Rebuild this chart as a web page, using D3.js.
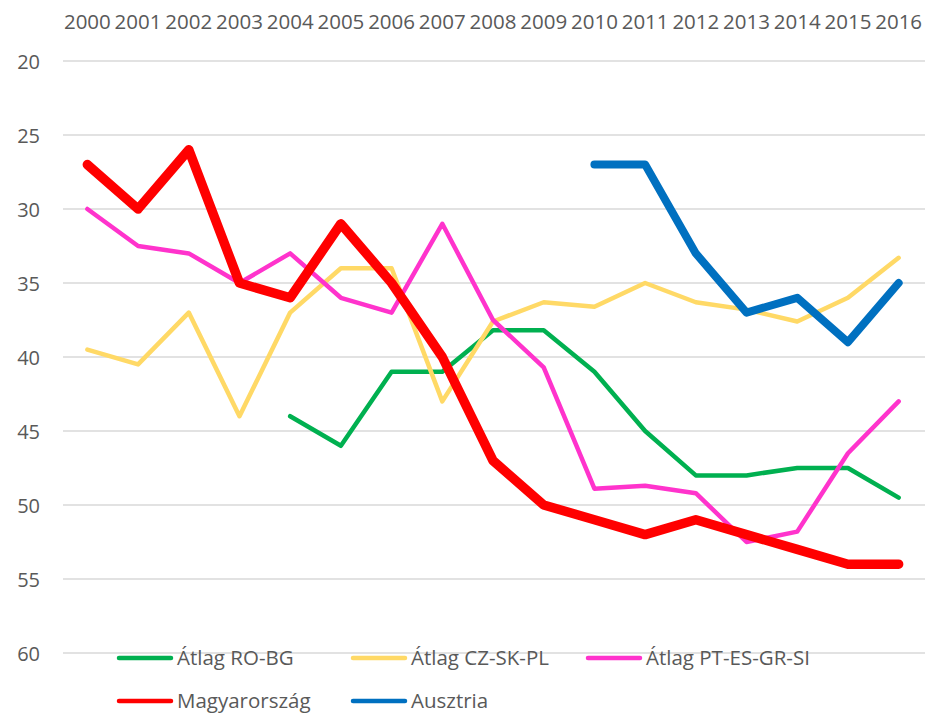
<!DOCTYPE html>
<html>
<head>
<meta charset="utf-8">
<script src="https://cdn.jsdelivr.net/npm/d3@7"></script>
<style>
  html, body { margin: 0; padding: 0; background: #fff; }
  svg { display: block; }
  text { font-family: "Open Sans", "Noto Sans", sans-serif; fill: #595959; }
</style>
</head>
<body>
<svg id="chart" width="925" height="713"></svg>
<script>
const years = ["2000","2001","2002","2003","2004","2005","2006","2007","2008","2009","2010","2011","2012","2013","2014","2015","2016"];
const yTicks = [20, 25, 30, 35, 40, 45, 50, 55, 60];

const roBg   = [null, null, null, null, 44, 46, 41, 41, 38.2, 38.2, 41, 45, 48, 48, 47.5, 47.5, 49.5];
const czSkPl = [39.5, 40.5, 37, 44, 37, 34, 34, 43, 37.6, 36.3, 36.6, 35, 36.3, 36.8, 37.6, 36, 33.3];
const ptEsGrSi = [30, 32.5, 33, 35, 33, 36, 37, 31, 37.5, 40.7, 48.9, 48.7, 49.2, 52.5, 51.8, 46.5, 43];
const magyar = [27, 30, 26, 35, 36, 31, 35, 40, 47, 50, 51, 52, 51, 52, 53, 54, 54];
const ausztria = [null, null, null, null, null, null, null, null, null, null, 27, 27, 33, 37, 36, 39, 35];

const seriesNames = ["Átlag RO-BG", "Átlag CZ-SK-PL", "Átlag PT-ES-GR-SI", "Magyarország", "Ausztria"];
const seriesValues = [roBg, czSkPl, ptEsGrSi, magyar, ausztria];
const seriesColors = ["#00B050", "#FFD966", "#FF33CC", "#FF0000", "#0070C0"];
const seriesWidths = [4.5, 4.5, 4.5, 9.5, 8];

(function () {
const svg = d3.select("#chart");
const mLeft = 63, mRight = 925, mTop = 61, mBottom = 653;

const x = d3.scaleBand().domain(years).range([mLeft - 1, mRight - 1]);
const y = d3.scaleLinear().domain([20, 60]).range([mTop, mBottom]);

// gridlines
svg.append("g").selectAll("line").data(yTicks).join("line")
  .attr("x1", mLeft).attr("x2", mRight)
  .attr("y1", d => y(d)).attr("y2", d => y(d))
  .attr("stroke", "#d9d9d9").attr("stroke-width", 1.5);

// y axis labels
const yAxis = d3.axisLeft(y).tickValues(yTicks).tickSize(0).tickPadding(0);
const gy = svg.append("g").attr("transform", "translate(40,0)").call(yAxis);
gy.select(".domain").remove();
gy.selectAll("text").attr("font-size", 20).style("font-family", '"Open Sans", sans-serif').attr("fill", "#595959").attr("dy", "0.35em");

// top x axis labels
const xAxis = d3.axisTop(x).tickSize(0).tickPadding(0);
const gx = svg.append("g").attr("transform", "translate(0,29)").call(xAxis);
gx.select(".domain").remove();
gx.selectAll("text").attr("font-size", 20.5).style("font-family", '"Open Sans", sans-serif').attr("fill", "#595959").attr("dy", 0);

// lines
const line = d3.line()
  .defined(d => d.v !== null)
  .x(d => x(d.year) + x.bandwidth() / 2)
  .y(d => y(d.v));

seriesValues.forEach((vals, i) => {
  const data = years.map((yr, j) => ({ year: yr, v: vals[j] }));
  svg.append("path")
    .datum(data)
    .attr("d", line)
    .attr("fill", "none")
    .attr("stroke", seriesColors[i])
    .attr("stroke-width", seriesWidths[i])
    .attr("stroke-linejoin", "round")
    .attr("stroke-linecap", "round");
});

// legend
const legendPos = [
  { x: 118, y: 658 }, { x: 352, y: 658 }, { x: 587, y: 658 },
  { x: 118, y: 701 }, { x: 352, y: 701 }
];
seriesNames.forEach((name, i) => {
  const p = legendPos[i];
  const g = svg.append("g").attr("transform", `translate(${p.x},${p.y})`);
  g.append("line").attr("x1", 1).attr("x2", 53).attr("y1", 0).attr("y2", 0)
    .attr("stroke", seriesColors[i]).attr("stroke-width", 4.5).attr("stroke-linecap", "round");
  g.append("text").attr("x", 59).attr("y", 0).attr("dy", "0.35em")
    .attr("font-size", 20.5).text(name);
});
})();
</script>
</body>
</html>
